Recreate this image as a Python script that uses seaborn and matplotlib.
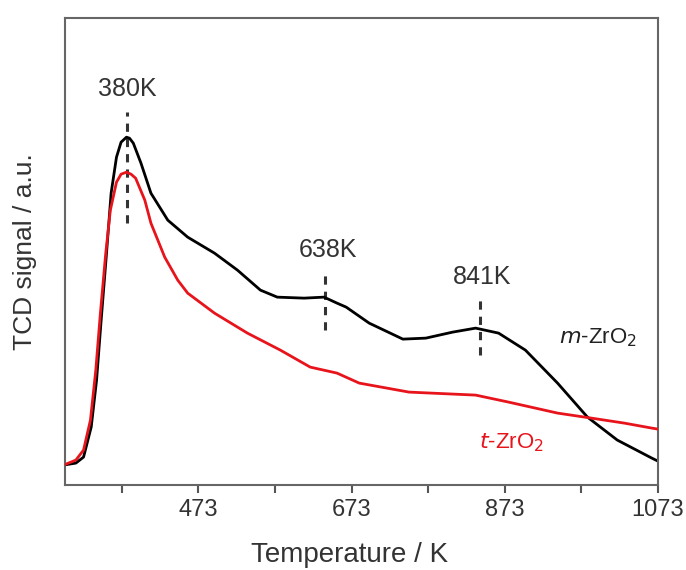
import matplotlib
matplotlib.use('Agg')
import matplotlib.pyplot as plt
import seaborn as sns
import pandas as pd

# m-ZrO2 (black) trace, temperature in K, signal in a.u.
m_temp = [297, 313, 323, 333, 340, 346, 353, 359, 366, 372, 379, 383, 388, 398,
          411, 433, 459, 494, 524, 554, 576, 611, 637, 654, 666, 696, 740, 770,
          805, 835, 865, 900, 942, 981, 1020, 1065, 1073]
m_sig = [28, 30, 36, 66, 113, 173, 240, 300, 336, 351, 356, 355, 350, 330,
         300, 273, 256, 240, 223, 203, 196, 195, 196, 190, 186, 170, 154, 155,
         161, 165, 160, 143, 110, 76, 53, 35, 32]

# t-ZrO2 (red) trace
t_temp = [297, 313, 323, 332, 339, 345, 352, 358, 366, 372, 379, 385, 391, 403,
          411, 429, 446, 459, 494, 537, 580, 619, 654, 683, 748, 835, 878, 942,
          986, 1029, 1065, 1073]
t_sig = [28, 33, 43, 73, 123, 180, 240, 283, 311, 319, 321, 319, 315, 293,
         270, 236, 213, 200, 180, 160, 143, 126, 120, 110, 101, 98, 91, 80,
         75, 70, 65, 64]

peak_temp = [380, 638, 841]
peak_labels = ['380K', '638K', '841K']
peak_top = [381, 221, 195]
peak_bottom = [270, 163, 138]
label_x = [380, 642, 843]
label_y = [404, 243, 216]

xticks = [473, 673, 873, 1073]
minor_xticks = [373, 573, 773, 973]

df_m = pd.DataFrame({'T': m_temp, 'S': m_sig})
df_t = pd.DataFrame({'T': t_temp, 'S': t_sig})

sns.set_style('white')
plt.rcParams['font.family'] = ['Liberation Sans', 'DejaVu Sans']

fig = plt.figure(figsize=(6.86, 5.70), dpi=100)
ax = fig.add_axes([0.095, 0.149, 0.864, 0.819])

# dashed peak markers behind the curves
for xp, yt, yb in zip(peak_temp, peak_top, peak_bottom):
    ax.plot([xp, xp], [yb, yt], color='#333333', lw=2.2, ls=(0, (2.7, 2.3)), zorder=1)
for lx, ly, lab in zip(label_x, label_y, peak_labels):
    ax.text(lx, ly, lab, ha='center', va='center', fontsize=18, color='#333333')

sns.lineplot(data=df_m, x='T', y='S', color='black', lw=2, sort=False, ax=ax, zorder=2)
sns.lineplot(data=df_t, x='T', y='S', color='#e8141c', lw=2, sort=False, ax=ax, zorder=3)

ax.text(944, 155, '$m$-ZrO$_2$', ha='left', va='center', fontsize=16, color='#222222')
ax.text(840, 50, '$t$-ZrO$_2$', ha='left', va='center', fontsize=16, color='#e8141c')

ax.set_xlim(299, 1073)
ax.set_ylim(8, 475)
ax.set_xticks(xticks)
ax.set_xticks(minor_xticks, minor=True)
ax.set_yticks([])
ax.tick_params(axis='x', which='both', direction='out', length=6, width=1.5,
               color='#555555', labelsize=17, labelcolor='#333333', bottom=True, pad=4)
ax.set_xlabel('Temperature / K', fontsize=20, color='#333333', va='top')
ax.xaxis.set_label_coords(0.48, -0.122)
ax.set_ylabel('TCD signal / a.u.', fontsize=19, color='#333333')
ax.yaxis.set_label_coords(-0.047, 0.5)
for sp in ax.spines.values():
    sp.set_color('#666666')
    sp.set_linewidth(1.5)

plt.savefig('out.png', dpi=100)
